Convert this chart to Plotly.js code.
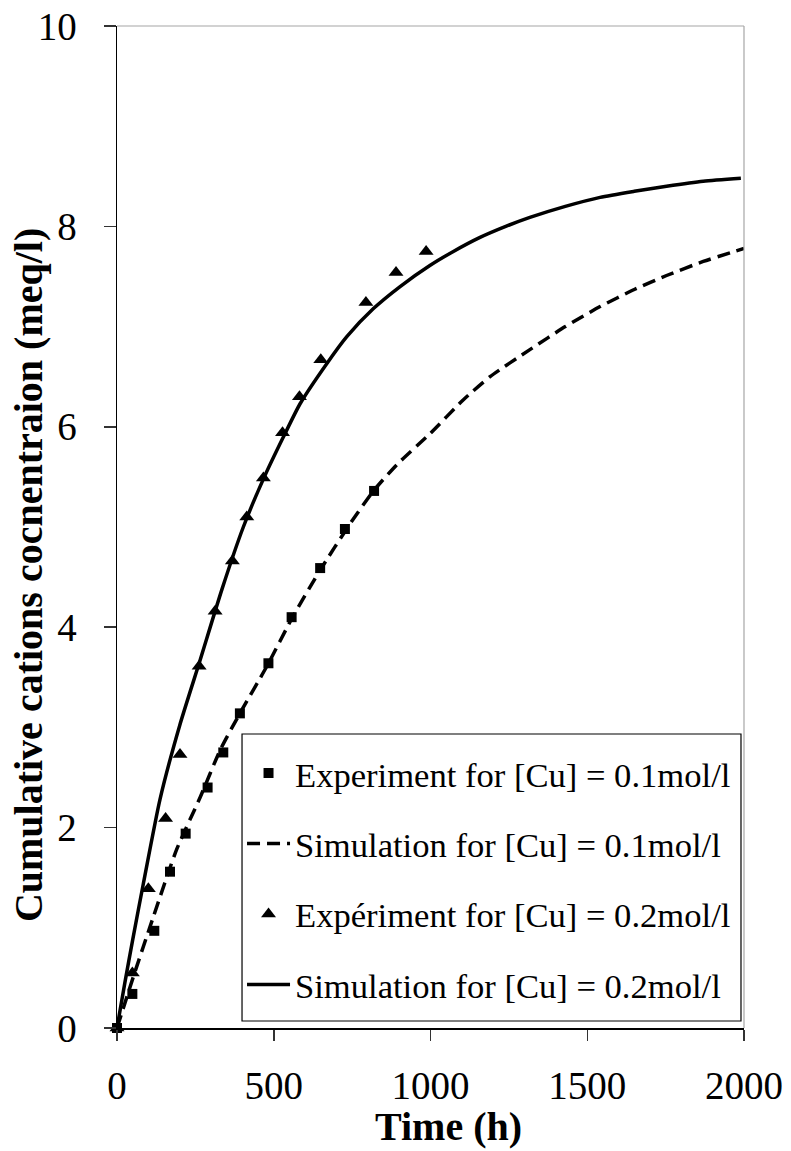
<!DOCTYPE html>
<html>
<head>
<meta charset="utf-8">
<script src="https://cdn.plot.ly/plotly-3.0.1.min.js"></script>
<style>html,body{margin:0;padding:0;background:#fff;}#chart{width:791px;height:1151px;}</style>
</head>
<body>
<div id="chart"></div>
<script>
// Experiment, [Cu] = 0.1 mol/l
const exp1Time = [0, 49, 119, 169, 219, 289, 339, 392, 483, 557, 648, 727, 820];
const exp1Conc = [0, 0.34, 0.97, 1.56, 1.94, 2.40, 2.75, 3.14, 3.64, 4.10, 4.59, 4.98, 5.36];
// Simulation, [Cu] = 0.1 mol/l
const sim1Time = [0, 52, 116, 190, 265, 330, 392, 478, 560, 648, 743, 818, 892, 998, 1105, 1190, 1317, 1430, 1541, 1650, 1753, 1870, 2000];
const sim1Conc = [0, 0.51, 1.11, 1.78, 2.30, 2.78, 3.14, 3.61, 4.10, 4.57, 5.03, 5.36, 5.62, 5.93, 6.27, 6.50, 6.77, 7.00, 7.20, 7.37, 7.51, 7.65, 7.78];
// Experiment, [Cu] = 0.2 mol/l
const exp2Time = [0, 49, 100, 155, 201, 262, 313, 368, 414, 467, 528, 582, 650, 794, 890, 986];
const exp2Conc = [0, 0.55, 1.39, 2.09, 2.73, 3.61, 4.16, 4.66, 5.10, 5.49, 5.94, 6.30, 6.67, 7.24, 7.54, 7.75];
// Simulation, [Cu] = 0.2 mol/l
const sim2Time = [0, 25, 50, 84, 137, 200, 265, 335, 403, 470, 531, 584, 669, 733, 818, 903, 998, 1073, 1158, 1240, 1317, 1430, 1541, 1650, 1753, 1870, 1990];
const sim2Conc = [0, 0.45, 0.88, 1.44, 2.28, 3.02, 3.67, 4.38, 5.00, 5.50, 5.90, 6.23, 6.63, 6.90, 7.18, 7.40, 7.61, 7.75, 7.89, 8.00, 8.09, 8.20, 8.29, 8.35, 8.40, 8.45, 8.48];

const seriesNames = [
  'Experiment for [Cu] = 0.1mol/l',
  'Simulation for [Cu] = 0.1mol/l',
  'Expériment for [Cu] = 0.2mol/l',
  'Simulation for [Cu] = 0.2mol/l'
];
const xTitle = 'Time (h)';
const yTitle = 'Cumulative cations cocnentraion (meq/l)';

const serif = '"Liberation Serif", "Times New Roman", Times, serif';

const traces = [
  {x: exp1Time, y: exp1Conc, name: seriesNames[0], type: 'scatter', mode: 'markers',
   marker: {symbol: 'square', size: 10, color: '#000'}, cliponaxis: false,
   legendgroup: 'a'},
  {x: sim1Time, y: sim1Conc, name: seriesNames[1], type: 'scatter', mode: 'lines',
   line: {color: '#000', width: 3.5, dash: '13px,7px', shape: 'spline', smoothing: 0.6},
   legendgroup: 'b'},
  {x: exp2Time, y: exp2Conc, name: seriesNames[2], type: 'scatter', mode: 'markers',
   marker: {symbol: 'triangle-up', size: 13, color: '#000'}, cliponaxis: false,
   legendgroup: 'c'},
  {x: sim2Time, y: sim2Conc, name: seriesNames[3], type: 'scatter', mode: 'lines',
   line: {color: '#000', width: 3.5, shape: 'spline', smoothing: 0.6},
   legendgroup: 'd'}
];

const layout = {
  width: 791, height: 1151,
  margin: {l: 117, r: 47, t: 26, b: 123},
  paper_bgcolor: '#fff', plot_bgcolor: '#fff',
  font: {family: serif, color: '#000', size: 39},
  showlegend: true,
  legend: {
    x: 0.1994, y: 0.2834, xanchor: 'left', yanchor: 'top',
    bgcolor: 'rgba(0,0,0,0)', borderwidth: 0,
    font: {family: serif, size: 34.6, color: '#000'},
    traceorder: 'grouped', tracegroupgap: 22.5, itemwidth: 43
  },
  xaxis: {
    range: [0, 2000], dtick: 500, tick0: 0,
    showgrid: false, zeroline: false,
    showline: true, linecolor: '#000', linewidth: 1.5,
    ticks: 'outside', ticklen: 11, tickcolor: '#333', tickwidth: 1.5,
    ticklabelstandoff: 12,
    tickfont: {family: serif, size: 39, color: '#000'},
    fixedrange: true
  },
  yaxis: {
    range: [0, 10], dtick: 2, tick0: 0,
    showgrid: false, zeroline: false,
    showline: true, linecolor: '#000', linewidth: 1.5,
    ticks: 'outside', ticklen: 12, tickcolor: '#333', tickwidth: 1.5,
    ticklabelstandoff: 19,
    tickfont: {family: serif, size: 39, color: '#000'},
    fixedrange: true
  },
  shapes: [
    {type: 'line', xref: 'paper', yref: 'paper', x0: 0, x1: 1, y0: 1, y1: 1,
     line: {color: '#a6a6a6', width: 1.2}},
    {type: 'line', xref: 'paper', yref: 'paper', x0: 1, x1: 1, y0: 0, y1: 1,
     line: {color: '#a6a6a6', width: 1.2}},
    // legend frame
    {type: 'rect', xref: 'paper', yref: 'paper', layer: 'above',
     x0: 0.1994, x1: 0.9952, y0: 0.007, y1: 0.2934,
     fillcolor: '#fff', line: {color: '#000', width: 1.2}}
  ],
  annotations: [
    {text: '<b>' + xTitle + '</b>', xref: 'paper', yref: 'paper',
     x: 0.5295, y: -0.1226, xanchor: 'center', yanchor: 'bottom', showarrow: false,
     font: {family: serif, size: 40, color: '#000'}},
    {text: '<b>' + yTitle + '</b>', xref: 'paper', yref: 'paper', textangle: -90,
     x: -0.1419, y: 0.452, xanchor: 'center', yanchor: 'middle', showarrow: false,
     font: {family: serif, size: 40, color: '#000'}}
  ]
};

Plotly.newPlot('chart', traces, layout, {displayModeBar: false, staticPlot: true});
</script>
</body>
</html>
